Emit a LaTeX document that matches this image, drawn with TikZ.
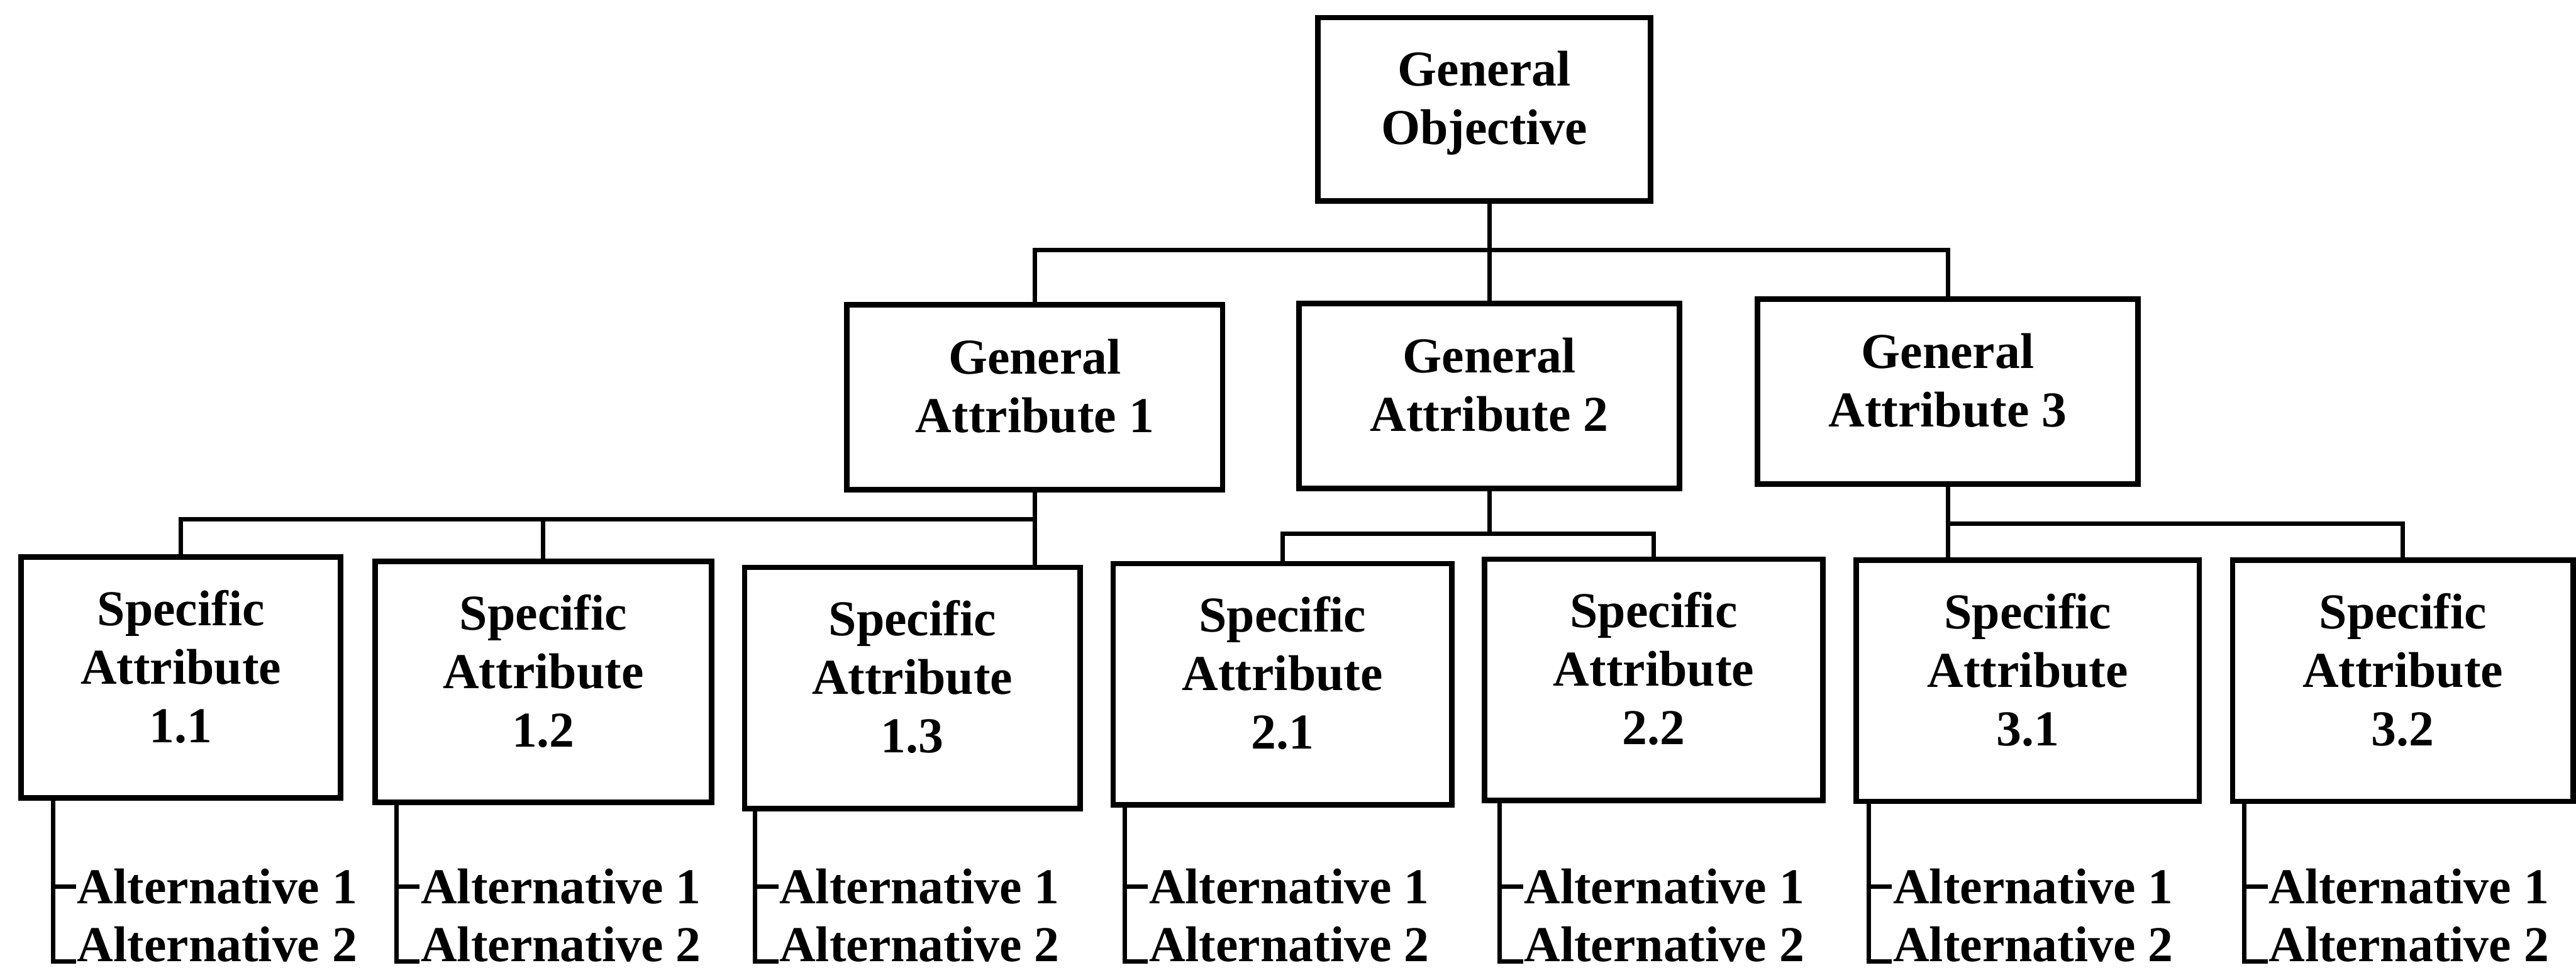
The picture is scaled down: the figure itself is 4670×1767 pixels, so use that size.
\documentclass[tikz,border=0pt]{standalone}
\usepackage{fontspec}
\setmainfont{Liberation Serif}
\begin{document}
\begin{tikzpicture}[x=0.1pt,y=-0.1pt,
  labelfont/.style={font=\bfseries\fontsize{9.1}{10.6}\selectfont},
  box/.style={draw, line width=1pt, fill=white, align=center, labelfont,
    inner sep=0pt, text depth=4.1pt},
  gobox/.style={box, minimum width=60.3pt, minimum height=33.2pt},
  gabox/.style={box, minimum width=69pt, minimum height=33.5pt},
  sabox/.style={box, minimum height=43.7pt},
  conn/.style={line width=0.8pt},
  alt/.style={labelfont, inner xsep=4.2pt, inner ysep=0pt, anchor=base west}]
\useasboundingbox (0,0) rectangle (4670,1767);

% objective and general attributes
\node[gobox] (GO) at (2691,198) {General\\Objective};
\node[gabox, minimum width=68.1pt] (GA1) at (1876,720) {General\\Attribute 1};
\node[gabox] (GA2) at (2700,718) {General\\Attribute 2};
\node[gabox] (GA3) at (3531,710) {General\\Attribute 3};

% specific attributes
\node[sabox, minimum width=57.9pt] (SA11) at (328,1228) {Specific\\Attribute\\1.1};
\node[sabox, minimum width=61.0pt] (SA12) at (985,1236) {Specific\\Attribute\\1.2};
\node[sabox, minimum width=60.8pt] (SA13) at (1654,1247) {Specific\\Attribute\\1.3};
\node[sabox, minimum width=61.4pt] (SA21) at (2325,1240) {Specific\\Attribute\\2.1};
\node[sabox, minimum width=61.4pt] (SA22) at (2998,1232) {Specific\\Attribute\\2.2};
\node[sabox, minimum width=62.2pt] (SA31) at (3676,1234) {Specific\\Attribute\\3.1};
\node[sabox, minimum width=61.7pt] (SA32) at (4356,1234) {Specific\\Attribute\\3.2};

% levels of the horizontal bars
\coordinate (bar0) at (0,453);
\coordinate (bar1) at (0,941);
\coordinate (bar2) at (0,967);
\coordinate (bar3) at (0,949);

% objective to general attributes
\draw[conn] (GA2.north) -- (GA2.north |- GO.south);
\draw[conn] (GA1.north) -- (GA1.north |- bar0) -- (GA3.north |- bar0) -- (GA3.north);

% general attribute 1 to its specific attributes
\draw[conn] (GA1.south) -- (GA1.south |- SA13.north);
\draw[conn] (SA11.north) -- (SA11.north |- bar1) -- (GA1.south |- bar1);
\draw[conn] (SA12.north) -- (SA12.north |- bar1);

% general attribute 2 to its specific attributes
\draw[conn] (GA2.south) -- (GA2.south |- bar2);
\draw[conn] (SA21.north) -- (SA21.north |- bar2) -- (SA22.north |- bar2) -- (SA22.north);

% general attribute 3 to its specific attributes
\draw[conn] (GA3.south) -- (GA3.south |- SA31.north);
\draw[conn] (GA3.south |- bar3) -- (SA32.north |- bar3) -- (SA32.north);

% alternatives under each specific attribute
\foreach \n/\x in {11/96,12/719,13/1369,21/2039,22/2719,31/3388,32/4069} {
  \node[alt] (altA\n) at (\x,1638) {Alternative 1};
  \node[alt] (altB\n) at (\x,1743) {Alternative 2};
  \draw[conn] (SA\n.south -| altA\n.west) -- (altB\n.base west) -- ++(42,0);
  \draw[conn] (altA\n.west) -- ++(42,0);
}
\end{tikzpicture}
\end{document}
